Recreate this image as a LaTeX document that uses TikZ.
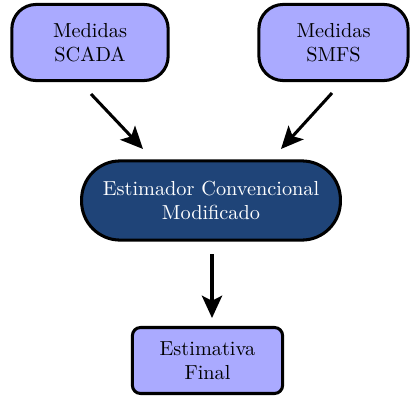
\documentclass[tikz,border=0pt]{standalone}
\usetikzlibrary{arrows.meta}
\definecolor{boxlight}{HTML}{AAAAFF}
\definecolor{boxdark}{RGB}{31,68,120}
\begin{document}
\begin{tikzpicture}[x=0.4926pt,y=-0.4926pt,
  lightbox/.style={draw=black,line width=1.5pt,fill=boxlight,align=center,inner sep=0pt},
  darkbox/.style={draw=black,line width=1.5pt,fill=boxdark,text=white,align=center,inner sep=0pt},
  flowarrow/.style={line width=1.5pt,-{Stealth[length=11pt,width=10pt,inset=2.5pt]}}]
\useasboundingbox (0,0) rectangle (410,395);
% input boxes
\node[lightbox,rounded corners=12pt,minimum width=77pt,minimum height=37.5pt] (scada) at (90,42.5) {Medidas\\SCADA};
\node[lightbox,rounded corners=12pt,minimum width=73.5pt,minimum height=37.5pt] (smfs) at (333.5,42.5) {Medidas\\SMFS};
% estimator
\node[darkbox,rounded corners=19pt,minimum width=127.5pt,minimum height=39pt] (est) at (211,200.5) {Estimador Convencional\\Modificado};
% output
\node[lightbox,rounded corners=4pt,minimum width=74pt,minimum height=32.5pt] (final) at (207.5,360.5) {Estimativa\\Final};
% arrow end points
\coordinate (s1) at (91,94);
\coordinate (e1) at (143,149);
\coordinate (s2) at (332,93);
\coordinate (e2) at (281,149);
\coordinate (s3) at (212,254);
\coordinate (e3) at (212,318);
\draw[flowarrow] (s1) -- (e1);
\draw[flowarrow] (s2) -- (e2);
\draw[flowarrow] (s3) -- (e3);
\end{tikzpicture}
\end{document}
